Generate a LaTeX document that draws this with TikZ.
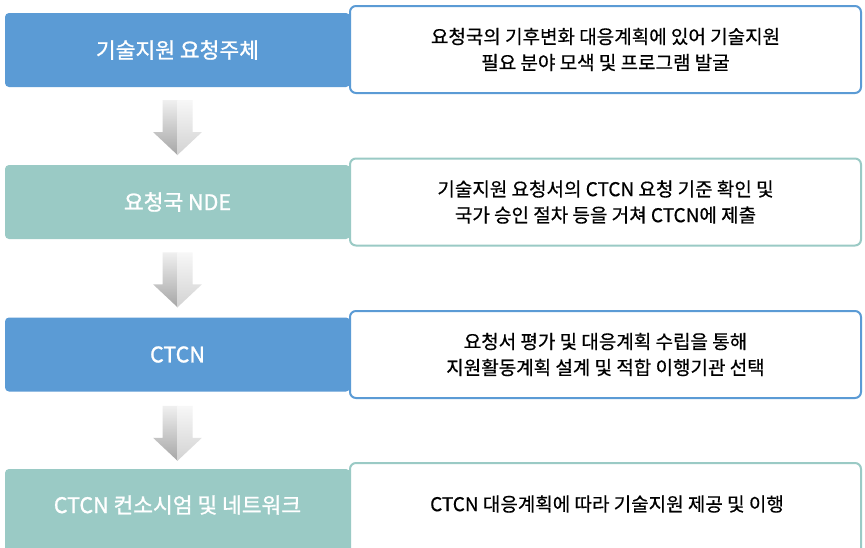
\documentclass[tikz,border=0pt]{standalone}
\usepackage{fontspec}
\setmainfont{Noto Sans CJK KR}
\newfontfamily\lfont[FakeBold=1.2]{Noto Sans CJK KR}
\newfontfamily\rfont[FakeBold=0.5]{Noto Sans CJK KR}
\usetikzlibrary{calc}
\definecolor{cblue}{HTML}{5B9BD5}
\definecolor{cteal}{HTML}{9ACAC5}
\begin{document}
\begin{tikzpicture}[x=1pt,y=1pt,
 lbox/.style={rounded corners=4pt, minimum width=345pt, minimum height=74pt, inner sep=0pt, text=white, font=\lfont\fontsize{21.5}{24}\selectfont},
 rbox/.style={draw, line width=2pt, fill=white, rounded corners=6pt, minimum width=511pt, minimum height=87pt, inner sep=0pt, align=center, font=\rfont\fontsize{19}{26}\selectfont},
 ltext/.style={text=white, inner sep=0pt, font=\lfont\fontsize{21.5}{24}\selectfont},
 rtext/.style={text=black, inner sep=0pt, align=center, font=\rfont\fontsize{19}{26}\selectfont},
 garrow/.pic={
   \shade[top color=gray!12, bottom color=gray!70] (-15,27.5) -- (0,27.5) -- (0,-27.5) -- (-24.5,-4.5) -- (-15,-4.5) -- cycle;
   \shade[top color=gray!6, bottom color=gray!35] (15,27.5) -- (0,27.5) -- (0,-27.5) -- (24.5,-4.5) -- (15,-4.5) -- cycle;
 }]
\useasboundingbox (0,0) rectangle (865,-547);
\clip (0,0) rectangle (865,-547);
\fill[white] (0,0) rectangle (865,-547);

\node[lbox, fill=cblue] (l1) at (177.5,-50) {기술지원 요청주체};
\node[rbox, draw=cblue] (r1) at (605.5,-49.5) {요청국의 기후변화 대응계획에 있어 기술지원\\필요 분야 모색 및 프로그램 발굴};

\node[lbox, fill=cteal] (l2) at (177.5,-202) {요청국 NDE};
\node[rbox, draw=cteal] (r2) at (605.5,-202) {기술지원 요청서의 CTCN 요청 기준 확인 및\\국가 승인 절차 등을 거쳐 CTCN에 제출};

\node[lbox, fill=cblue] (l3) at (177.5,-354.5) {CTCN};
\node[rbox, draw=cblue] (r3) at (605.5,-354.5) {요청서 평가 및 대응계획 수립을 통해\\지원활동계획 설계 및 적합 이행기관 선택};

\node[lbox, fill=cteal, minimum height=90pt] (l4) at (177.5,-514) {};
\node[rbox, draw=cteal, minimum height=98pt] (r4) at (605.5,-512) {};
\node[ltext] (t4l) at (177.5,-505) {CTCN 컨소시엄 및 네트워크};
\node[rtext] (t4r) at (607,-504) {CTCN 대응계획에 따라 기술지원 제공 및 이행};

\path ($(l1.south)!0.5!(l2.north)+(0,-1.5)$) pic {garrow};
\path ($(l2.south)!0.5!(l3.north)+(0,-1.5)$) pic {garrow};
\path ($(l3.south)!0.5!(l4.north)+(0,-3)$) pic {garrow};
\end{tikzpicture}
\end{document}
